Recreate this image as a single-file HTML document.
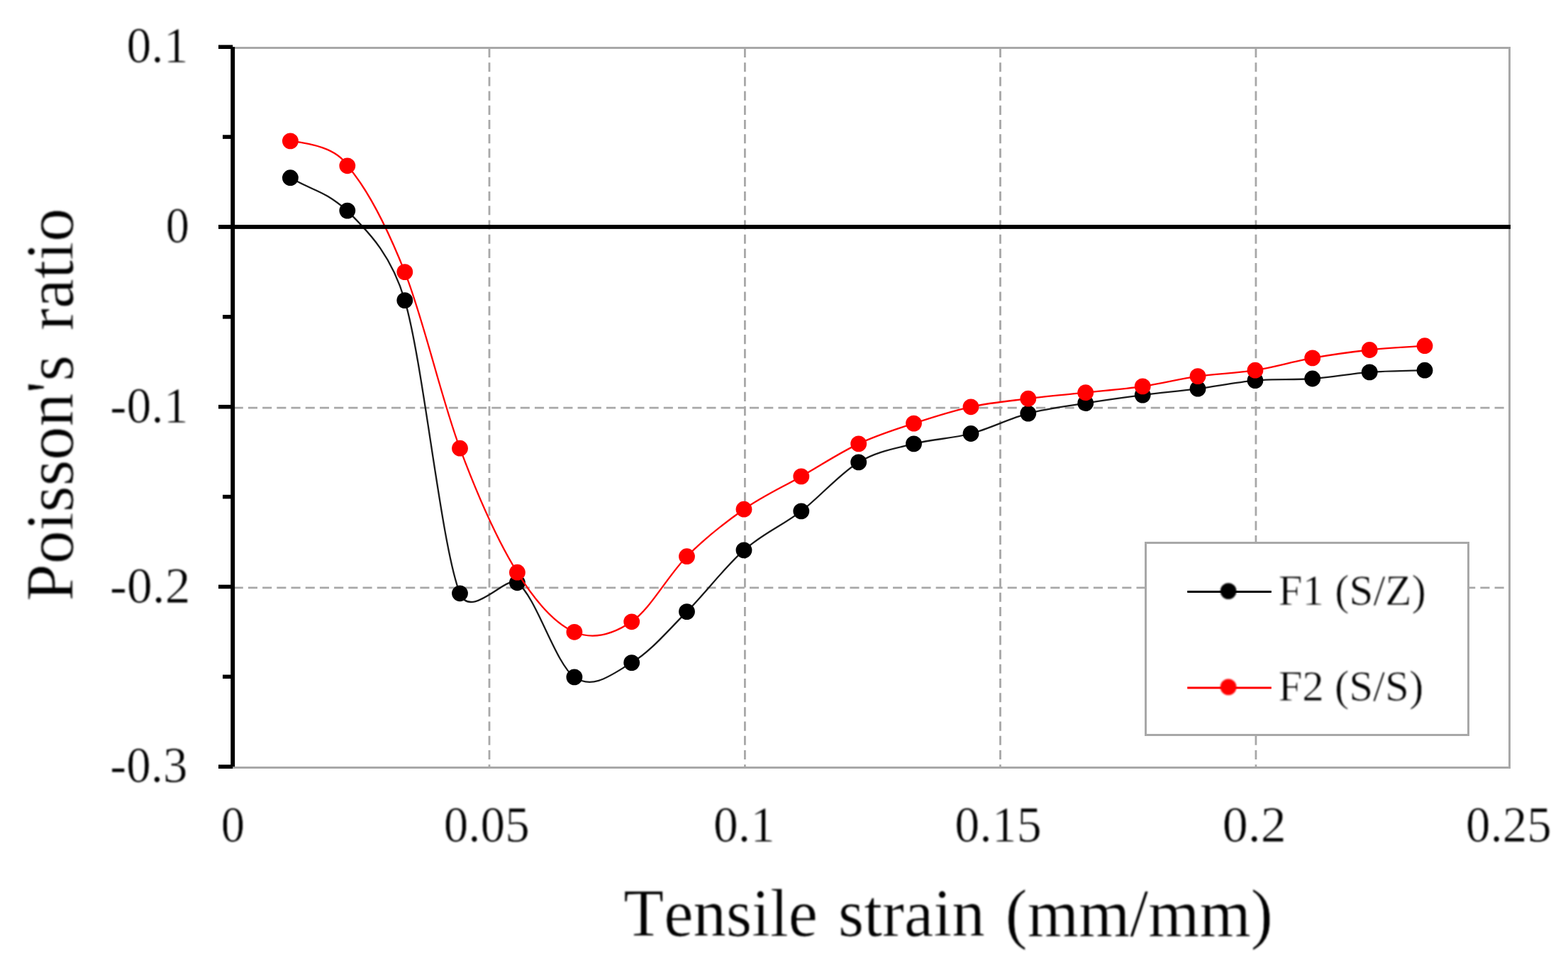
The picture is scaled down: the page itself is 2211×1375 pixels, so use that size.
<!DOCTYPE html>
<html lang="en"><head><meta charset="utf-8"><title>Poisson's ratio - Tensile strain (mm/mm)</title>
<style>html,body{margin:0;padding:0;background:#fff;}body{width:2211px;height:1375px;overflow:hidden;}svg{display:block;}text{font-family:"Liberation Serif",serif;fill:#000;font-kerning:none;font-variant-ligatures:none;}</style>
</head><body>
<svg width="2211" height="1375" viewBox="0 0 2211 1375">
<rect width="2211" height="1375" fill="#fff"/>
<defs><filter id="soft" x="0" y="0" width="2211" height="1375" filterUnits="userSpaceOnUse" color-interpolation-filters="sRGB"><feGaussianBlur stdDeviation="1"/></filter></defs>
<g fill="none" stroke="#a8a8a8" stroke-width="3">
<path d="M328.20 67.50 H2128.50 V1082.50 H328.20"/>
</g>
<g fill="none" stroke="#a8a8a8" stroke-width="2.8" stroke-dasharray="13.1 7.103">
<path d="M690.00 68.00 V1082.50" stroke-dashoffset="0"/>
<path d="M1050.40 68.00 V1082.50" stroke-dashoffset="0"/>
<path d="M1410.50 68.00 V1082.50" stroke-dashoffset="0"/>
<path d="M1770.90 68.00 V1082.50" stroke-dashoffset="0"/>
<path d="M329.70 575.10 H2128.50" stroke-dashoffset="0"/>
<path d="M329.70 828.85 H2128.50" stroke-dashoffset="0"/>
</g>
<path d="M409.40 250.70 C446.00 271.30 454.20 267.10 489.80 297.10 C511.35 320.18 549.61 351.55 570.80 423.60 C597.25 513.55 622.07 770.43 648.50 836.80 C663.72 875.02 713.91 810.46 729.40 821.80 C756.30 841.48 783.02 936.10 809.90 954.90 C836.78 973.70 864.27 949.98 890.70 934.60 C917.13 919.22 942.12 889.05 968.50 862.60 C994.88 836.15 1022.12 799.52 1049.00 775.90 C1075.88 752.28 1102.85 741.57 1129.80 720.90 C1156.75 700.23 1184.25 667.73 1210.70 651.90 C1237.15 636.07 1262.12 632.63 1288.50 625.90 C1314.88 619.17 1342.12 618.63 1369.00 611.50 C1395.88 604.37 1422.85 590.25 1449.80 583.10 C1476.75 575.95 1503.80 572.93 1530.70 568.60 C1557.60 564.27 1584.82 560.50 1611.20 557.10 C1637.58 553.70 1662.55 551.62 1689.00 548.20 C1715.45 544.78 1742.95 538.97 1769.90 536.60 C1796.85 534.23 1823.82 535.95 1850.70 534.00 C1877.58 532.05 1904.82 526.87 1931.20 524.90 C1957.58 522.93 1983.07 523.10 2009.00 522.20" fill="none" stroke="#1a1a1a" stroke-width="2.3" stroke-linejoin="round"/>
<g fill="#000"><circle cx="409.4" cy="250.7" r="11.4"/><circle cx="489.8" cy="297.1" r="11.4"/><circle cx="570.8" cy="423.6" r="11.4"/><circle cx="648.5" cy="836.8" r="11.4"/><circle cx="729.4" cy="821.8" r="11.4"/><circle cx="809.9" cy="954.9" r="11.4"/><circle cx="890.7" cy="934.6" r="11.4"/><circle cx="968.5" cy="862.6" r="11.4"/><circle cx="1049.0" cy="775.9" r="11.4"/><circle cx="1129.8" cy="720.9" r="11.4"/><circle cx="1210.7" cy="651.9" r="11.4"/><circle cx="1288.5" cy="625.9" r="11.4"/><circle cx="1369.0" cy="611.5" r="11.4"/><circle cx="1449.8" cy="583.1" r="11.4"/><circle cx="1530.7" cy="568.6" r="11.4"/><circle cx="1611.2" cy="557.1" r="11.4"/><circle cx="1689.0" cy="548.2" r="11.4"/><circle cx="1769.9" cy="536.6" r="11.4"/><circle cx="1850.7" cy="534.0" r="11.4"/><circle cx="1931.2" cy="524.9" r="11.4"/><circle cx="2009.0" cy="522.2" r="11.4"/></g>
<path d="M409.40 198.90 C438.30 202.30 475.40 209.10 489.80 233.80 C516.70 264.58 544.35 317.20 570.80 383.60 C597.25 450.00 622.07 561.60 648.50 632.20 C674.93 702.80 702.50 764.02 729.40 807.20 C756.30 850.38 783.02 879.70 809.90 891.30 C836.78 902.90 864.27 894.57 890.70 876.80 C917.13 859.03 942.12 811.13 968.50 784.70 C994.88 758.27 1022.12 737.00 1049.00 718.20 C1075.88 699.40 1102.85 687.28 1129.80 671.90 C1156.75 656.52 1184.25 638.37 1210.70 625.90 C1237.15 613.43 1262.12 605.78 1288.50 597.10 C1314.88 588.42 1342.12 579.62 1369.00 573.80 C1395.88 567.98 1422.85 565.55 1449.80 562.20 C1476.75 558.85 1503.80 556.58 1530.70 553.70 C1557.60 550.82 1584.82 548.75 1611.20 544.90 C1637.58 541.05 1662.55 534.38 1689.00 530.60 C1715.45 526.82 1742.95 526.48 1769.90 522.20 C1796.85 517.92 1823.82 509.68 1850.70 504.90 C1877.58 500.12 1904.82 496.37 1931.20 493.50 C1957.58 490.63 1983.07 489.63 2009.00 487.70" fill="none" stroke="#ff0000" stroke-width="2.3" stroke-linejoin="round"/>
<g fill="#f00"><circle cx="409.4" cy="198.9" r="11.4"/><circle cx="489.8" cy="233.8" r="11.4"/><circle cx="570.8" cy="383.6" r="11.4"/><circle cx="648.5" cy="632.2" r="11.4"/><circle cx="729.4" cy="807.2" r="11.4"/><circle cx="809.9" cy="891.3" r="11.4"/><circle cx="890.7" cy="876.8" r="11.4"/><circle cx="968.5" cy="784.7" r="11.4"/><circle cx="1049.0" cy="718.2" r="11.4"/><circle cx="1129.8" cy="671.9" r="11.4"/><circle cx="1210.7" cy="625.9" r="11.4"/><circle cx="1288.5" cy="597.1" r="11.4"/><circle cx="1369.0" cy="573.8" r="11.4"/><circle cx="1449.8" cy="562.2" r="11.4"/><circle cx="1530.7" cy="553.7" r="11.4"/><circle cx="1611.2" cy="544.9" r="11.4"/><circle cx="1689.0" cy="530.6" r="11.4"/><circle cx="1769.9" cy="522.2" r="11.4"/><circle cx="1850.7" cy="504.9" r="11.4"/><circle cx="1931.2" cy="493.5" r="11.4"/><circle cx="2009.0" cy="487.7" r="11.4"/></g>
<g fill="#000">
<rect x="325.25" y="66.20" width="5.90" height="1015.00"/>
<rect x="308.00" y="317.00" width="1822.00" height="5.90"/>
<rect x="308.00" y="63.40" width="20.20" height="5.60"/>
<rect x="314.00" y="190.27" width="14.20" height="5.60"/>
<rect x="314.00" y="444.02" width="14.20" height="5.60"/>
<rect x="308.00" y="570.90" width="20.20" height="5.60"/>
<rect x="314.00" y="697.78" width="14.20" height="5.60"/>
<rect x="308.00" y="824.65" width="20.20" height="5.60"/>
<rect x="314.00" y="951.53" width="14.20" height="5.60"/>
<rect x="308.00" y="1078.40" width="20.20" height="5.60"/>
</g>
<rect x="1615.50" y="765.50" width="455.00" height="271.00" fill="#fff" stroke="#a8a8a8" stroke-width="3"/>
<path d="M1674.20 834.60 H1792.80" stroke="#000" stroke-width="3.0" fill="none"/>
<path d="M1674.20 970.10 H1792.80" stroke="#f00" stroke-width="3.0" fill="none"/>
<g filter="url(#soft)" stroke="#fff" stroke-width="0.7" stroke-linejoin="round">
<circle cx="1732.10" cy="833.60" r="11.4" fill="#000" stroke="none"/>
<text x="1802.64" y="853.30" font-size="60.5" textLength="208.23" lengthAdjust="spacingAndGlyphs">F1 (S/Z)</text>
<circle cx="1732.10" cy="968.90" r="11.4" fill="#f00" stroke="none"/>
<text x="1802.45" y="988.30" font-size="60.5" textLength="204.73" lengthAdjust="spacingAndGlyphs">F2 (S/S)</text>
<text x="178.55" y="88.30" font-size="71" textLength="87.03" lengthAdjust="spacingAndGlyphs">0.1</text>
<text x="233.87" y="341.90" font-size="71" textLength="33.15" lengthAdjust="spacingAndGlyphs">0</text>
<text x="155.22" y="596.00" font-size="71" textLength="110.27" lengthAdjust="spacingAndGlyphs">-0.1</text>
<text x="155.14" y="850.00" font-size="71" textLength="113.31" lengthAdjust="spacingAndGlyphs">-0.2</text>
<text x="155.24" y="1103.20" font-size="71" textLength="109.26" lengthAdjust="spacingAndGlyphs">-0.3</text>
<text x="311.77" y="1186.90" font-size="71" textLength="33.27" lengthAdjust="spacingAndGlyphs">0</text>
<text x="625.77" y="1186.90" font-size="71" textLength="120.93" lengthAdjust="spacingAndGlyphs">0.05</text>
<text x="1006.05" y="1186.90" font-size="71" textLength="87.03" lengthAdjust="spacingAndGlyphs">0.1</text>
<text x="1346.13" y="1186.90" font-size="71" textLength="122.61" lengthAdjust="spacingAndGlyphs">0.15</text>
<text x="1723.76" y="1186.90" font-size="71" textLength="90.02" lengthAdjust="spacingAndGlyphs">0.2</text>
<text x="2066.97" y="1186.90" font-size="71" textLength="120.72" lengthAdjust="spacingAndGlyphs">0.25</text>
<text x="879.35" y="1320.30" font-size="96" word-spacing="5.99" textLength="915.39" lengthAdjust="spacingAndGlyphs">Tensile strain (mm/mm)</text>
<text transform="translate(102.70 847.81) rotate(-90)" font-size="96" word-spacing="11.07" textLength="554.18" lengthAdjust="spacingAndGlyphs">Poisson's ratio</text>
</g>
</svg>
</body></html>
